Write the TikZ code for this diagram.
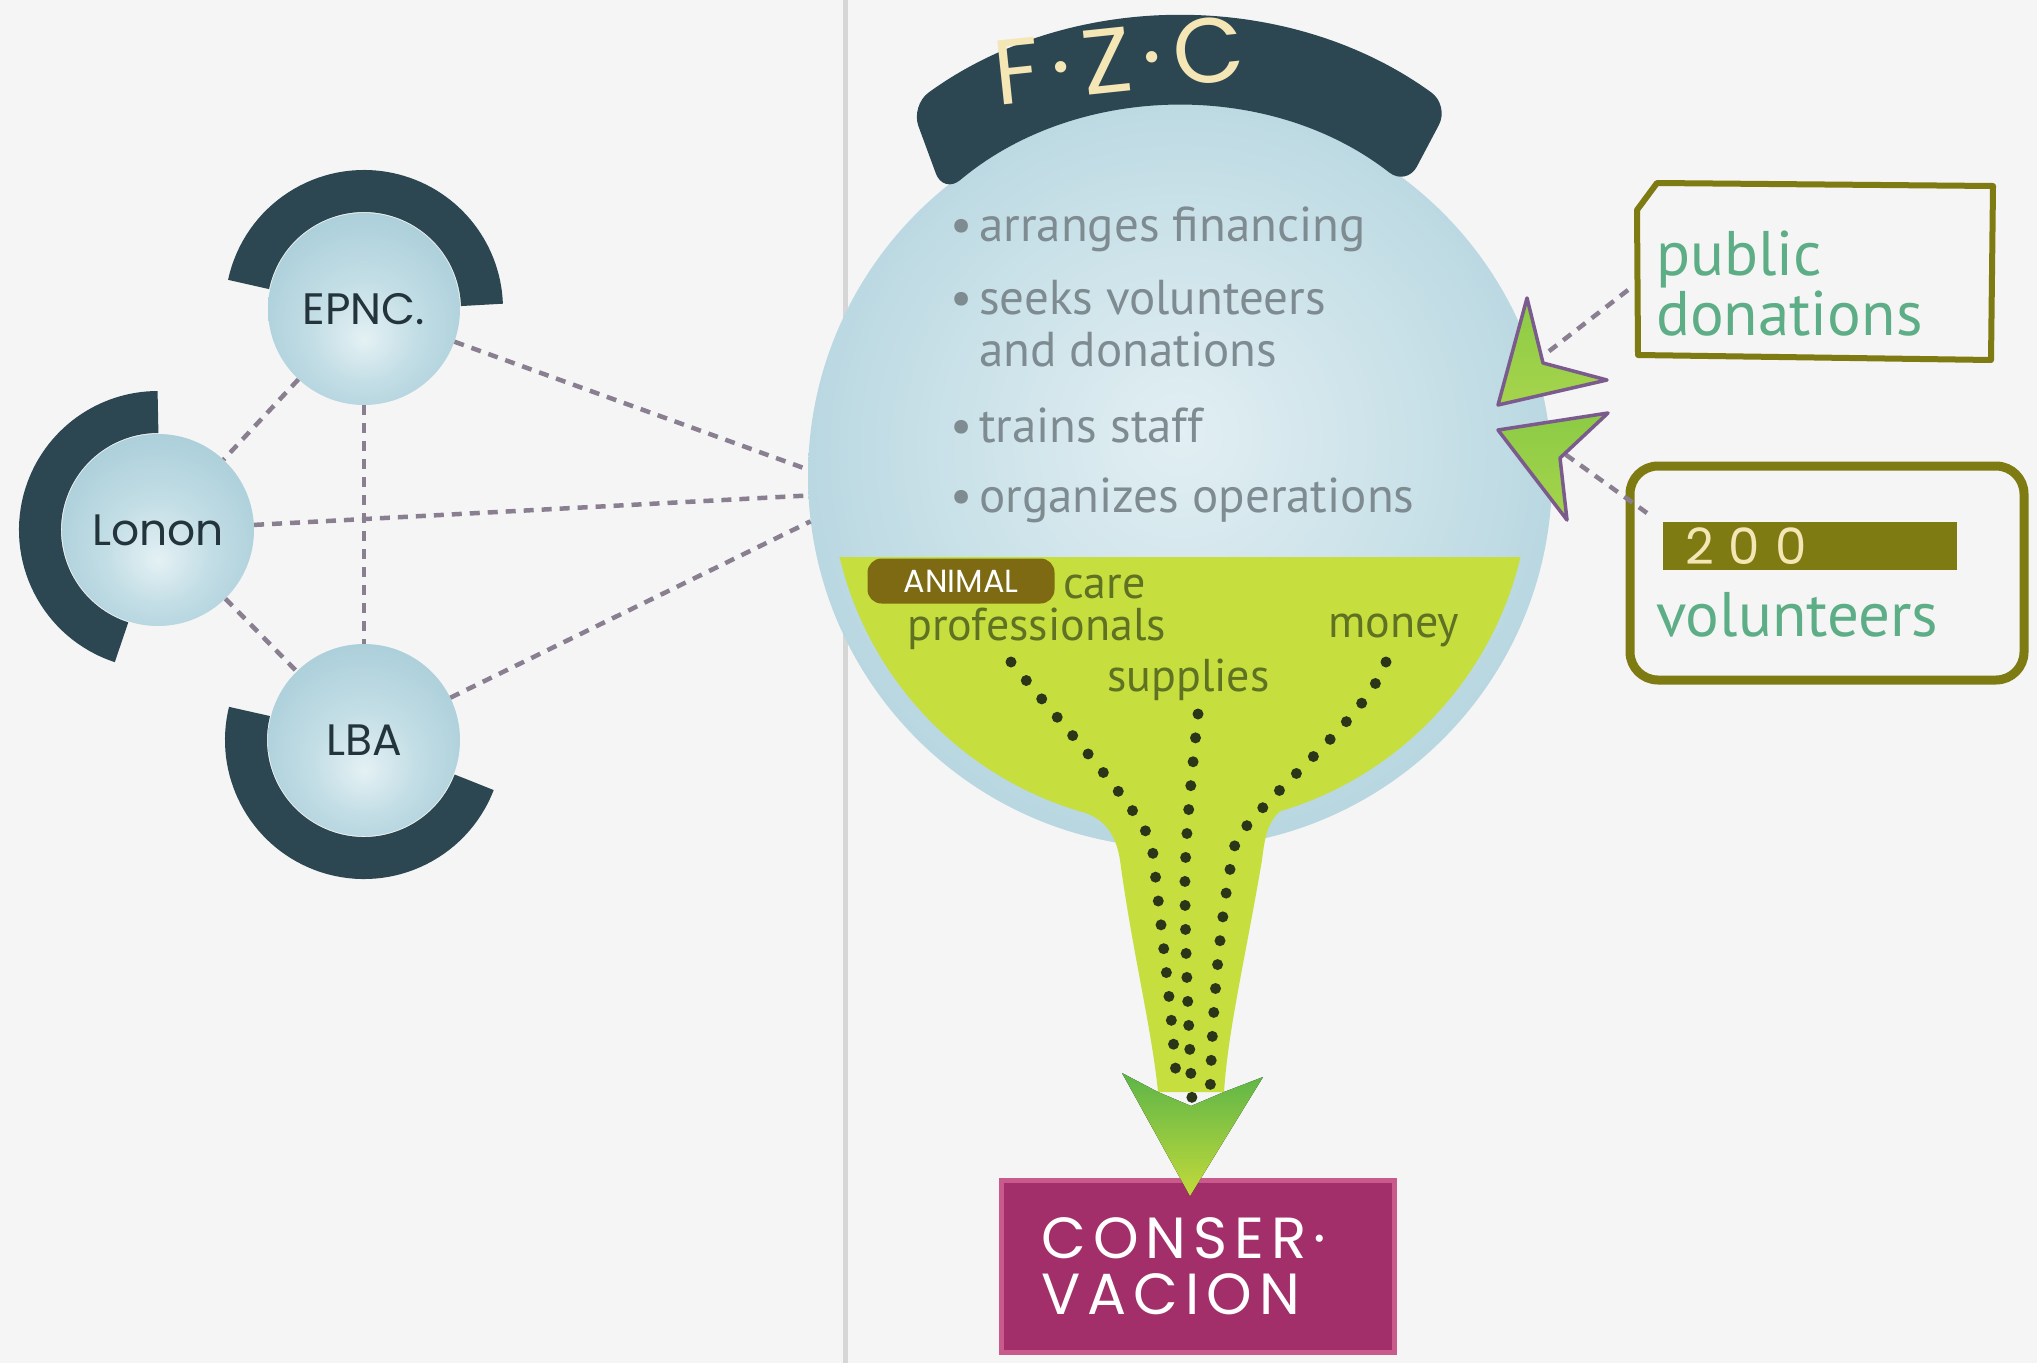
\documentclass[tikz,border=0pt]{standalone}
\usepackage{fontspec}
\usetikzlibrary{calc}
\setmainfont{PT Sans}
\newfontfamily\hand{Poppins}
\newfontfamily\handsp{Poppins}[LetterSpace=12.0]
\newfontfamily\handwide{Poppins}[LetterSpace=30.0]
\definecolor{bg}{HTML}{F4F5F4}
\definecolor{sepc}{HTML}{D6D6D6}
\definecolor{bcin}{HTML}{E2EFF3}
\definecolor{bcmid}{HTML}{C6DFE7}
\definecolor{bcout}{HTML}{8FBFCF}
\definecolor{scin}{HTML}{E4F1F4}
\definecolor{scmid}{HTML}{C2DDE5}
\definecolor{scout}{HTML}{8BBBCB}
\definecolor{limec}{HTML}{C7DE3F}
\definecolor{funtextc}{HTML}{5F7122}
\definecolor{dotc}{HTML}{2B3618}
\definecolor{darkband}{HTML}{2C4652}
\definecolor{cream}{HTML}{F5E6B5}
\definecolor{darkink}{HTML}{23343C}
\definecolor{dashc}{HTML}{8A7E91}
\definecolor{graytext}{HTML}{7E8B90}
\definecolor{boxtextc}{HTML}{5DAD86}
\definecolor{olivec}{HTML}{7E7B12}
\definecolor{blobc}{HTML}{7D6A12}
\definecolor{consfill}{HTML}{A32F6A}
\definecolor{consedge}{HTML}{C85A8C}
\definecolor{arrA}{HTML}{5DB548}
\definecolor{arrB}{HTML}{C2DA3A}
\definecolor{dartA}{HTML}{8CCB45}
\definecolor{dartB}{HTML}{A6D44C}
\definecolor{dartedge}{HTML}{7B5B8E}
\pgfdeclareradialshading{bigball}{\pgfpoint{0bp}{3bp}}{color(0bp)=(bcin); color(18bp)=(bcmid); color(50bp)=(bcout)}
\pgfdeclareradialshading{smallball}{\pgfpoint{0bp}{-8bp}}{color(0bp)=(scin); color(14bp)=(scmid); color(50bp)=(scout)}
\tikzset{
  bigballstyle/.style={circle, minimum size=744pt, inner sep=0pt, shade, shading=bigball},
  smallballstyle/.style={circle, minimum size=192pt, inner sep=0pt, shade, shading=smallball,
    font=\hand\fontsize{44}{46}\selectfont, text=darkink},
  darkarc/.style={draw=darkband, line width=42pt},
  conn/.style={draw=dashc, line width=4.5pt, dash pattern=on 10pt off 8pt},
  dotline/.style={draw=dotc, line width=11pt, line cap=round, dash pattern=on 0pt off 24pt},
  circtext/.style={anchor=base west, text=graytext, font=\fontsize{49}{52}\selectfont, inner sep=0pt},
  funtext/.style={anchor=base west, text=funtextc, font=\fontsize{46}{48}\selectfont, inner sep=0pt},
  boxtext/.style={anchor=base west, text=boxtextc, font=\fontsize{63}{63}\selectfont, inner sep=0pt},
  dart/.style={draw=dartedge, line width=3.5pt, line join=round, top color=dartA, bottom color=dartB},
  olivebox/.style={draw=olivec, line join=round},
}
\begin{document}
\begin{tikzpicture}[x=1pt,y=-1pt]
\useasboundingbox (0,0) rectangle (2037,1363);
\fill[bg] (0,0) rectangle (2037,1363);
\draw[sepc, line width=5pt] (845,0) -- (845,1363);

% ---- big ball and funnel
\node[bigballstyle] (big) at (1180,476) {};
\fill[limec] (838,557) -- (1520.5,557) arc[start angle=13.4,end angle=73.4,radius=350]
  .. controls (1268,822) and (1265,835) .. (1262,860)
  .. controls (1245,960) and (1228,1030) .. (1224,1092) -- (1158,1092)
  .. controls (1152,1030) and (1132,950) .. (1120,860)
  .. controls (1116,835) and (1105,820) .. (1085.3,812.9)
  arc[start angle=105.7,end angle=166.6,radius=350] -- cycle;

% ---- band on top
\fill[darkband, rounded corners=22pt] (1180,476) ++(-126:458) arc[start angle=-126,end angle=-54,radius=458]
  -- ($(1180,476)+(-52:368)$) arc[start angle=-52,end angle=-130,radius=368] -- cycle;
\node[text=cream, font=\handsp\fontsize{92}{92}\selectfont, rotate=6] (fzc) at (1119,60) {F·Z·C};

% ---- bullet text
\node[circtext] (l1) at (979,241) {\llap{\textbullet\hspace{7pt}}arranges financing};
\node[circtext] (l2) at (979,314) {\llap{\textbullet\hspace{7pt}}seeks volunteers};
\node[circtext] (l3) at (979,366) {and donations};
\node[circtext] (l4) at (979,442) {\llap{\textbullet\hspace{7pt}}trains staff};
\node[circtext] (l5) at (979,512) {\llap{\textbullet\hspace{7pt}}organizes operations};

% ---- funnel labels
\node[fill=blobc, rounded corners=14pt, minimum width=187pt, minimum height=45pt, inner sep=0pt,
  text=white, font=\hand\fontsize{32}{34}\selectfont] (animal) at (961,581) {ANIMAL};
\node[funtext] (care) at (1063,598) {care};
\node[funtext] (prof) at (907,640) {professionals};
\node[funtext] (money) at (1328,637) {money};
\node[funtext] (supp) at (1107,691) {supplies};

\coordinate (d1s) at (1011,662);
\coordinate (d2s) at (1198,714);
\coordinate (d3s) at (1386,662);
\coordinate (d1e) at (1177,1090);
\coordinate (d2e) at (1192,1100);
\coordinate (d3e) at (1210,1100);
\draw[dotline] (d1s) .. controls (1075,740) and (1140,810) .. (1152,845) .. controls (1160,920) and (1172,1010) .. (d1e);
\draw[dotline] (d2s) .. controls (1190,790) and (1184,850) .. (1185,900) .. controls (1186,980) and (1190,1050) .. (d2e);
\draw[dotline] (d3s) .. controls (1365,720) and (1270,790) .. (1236,840) .. controls (1222,900) and (1212,1000) .. (d3e);

% ---- conservation box and arrowhead
\node[fill=consfill, draw=consedge, line width=5pt, minimum width=393pt, minimum height=172pt,
  text width=313pt, inner xsep=40pt, align=left, text=white,
  font=\handsp\fontsize{58}{56}\selectfont] (cons) at (1198,1266) {CONSER·\\VACION};
\fill[top color=arrA, bottom color=arrB] (1122,1073) -- (1190,1196) -- (1263,1077) -- (1224,1092) -- (1191,1106) -- (1158,1092) -- cycle;

% ---- small balls
\node[smallballstyle] (epnc) at (364,309) {EPNC.};
\node[smallballstyle] (lonon) at (158,530) {Lonon};
\node[smallballstyle] (lba) at (364,740) {LBA};
\draw[darkarc] (364,309) ++(-168:118) arc[start angle=-168,end angle=-2,radius=118];
\draw[darkarc] (158,530) ++(108:118) arc[start angle=108,end angle=270,radius=118];
\draw[darkarc] (364,740) ++(21:118) arc[start angle=21,end angle=194,radius=118];

\draw[conn] (epnc) -- (lonon);
\draw[conn] (lonon) -- (lba);
\draw[conn] (epnc) -- (lba);
\draw[conn] (epnc) -- (big.179);
\draw[conn] (lonon) -- (big.183);
\draw[conn] (lba) -- (big.187);

% ---- right boxes
\draw[olivebox, line width=6pt] (1637,210) -- (1657,183) -- (1993,186) -- (1991,360) -- (1638,355) -- cycle;
\node[boxtext] (pub1) at (1656,275) {public};
\node[boxtext] (pub2) at (1656,335) {donations};
\draw[olivebox, line width=9pt, rounded corners=28pt] (1630,466) rectangle (2024,680);
\node[fill=olivec, minimum width=294pt, minimum height=48pt, text width=250pt, inner xsep=22pt, inner ysep=0pt,
  align=left, text=cream, font=\handwide\fontsize{50}{50}\selectfont, anchor=west] (num) at (1663,546) {200};
\node[boxtext] (vol) at (1656,636) {volunteers};

% ---- darts
\coordinate (n1) at (1548,352);
\coordinate (n2) at (1562,452);
\coordinate (b1) at (1628,290);
\coordinate (b2) at (1647,513);
\draw[conn] (b1) -- (n1);
\draw[conn] (b2) -- (n2);
\path[dart] (1498,405) -- (1527,298) -- (1543,363) -- (1607,380) -- cycle;
\path[dart] (1498,430) -- (1608,413) -- (1560,458) -- (1567,520) -- cycle;
\end{tikzpicture}
\end{document}
